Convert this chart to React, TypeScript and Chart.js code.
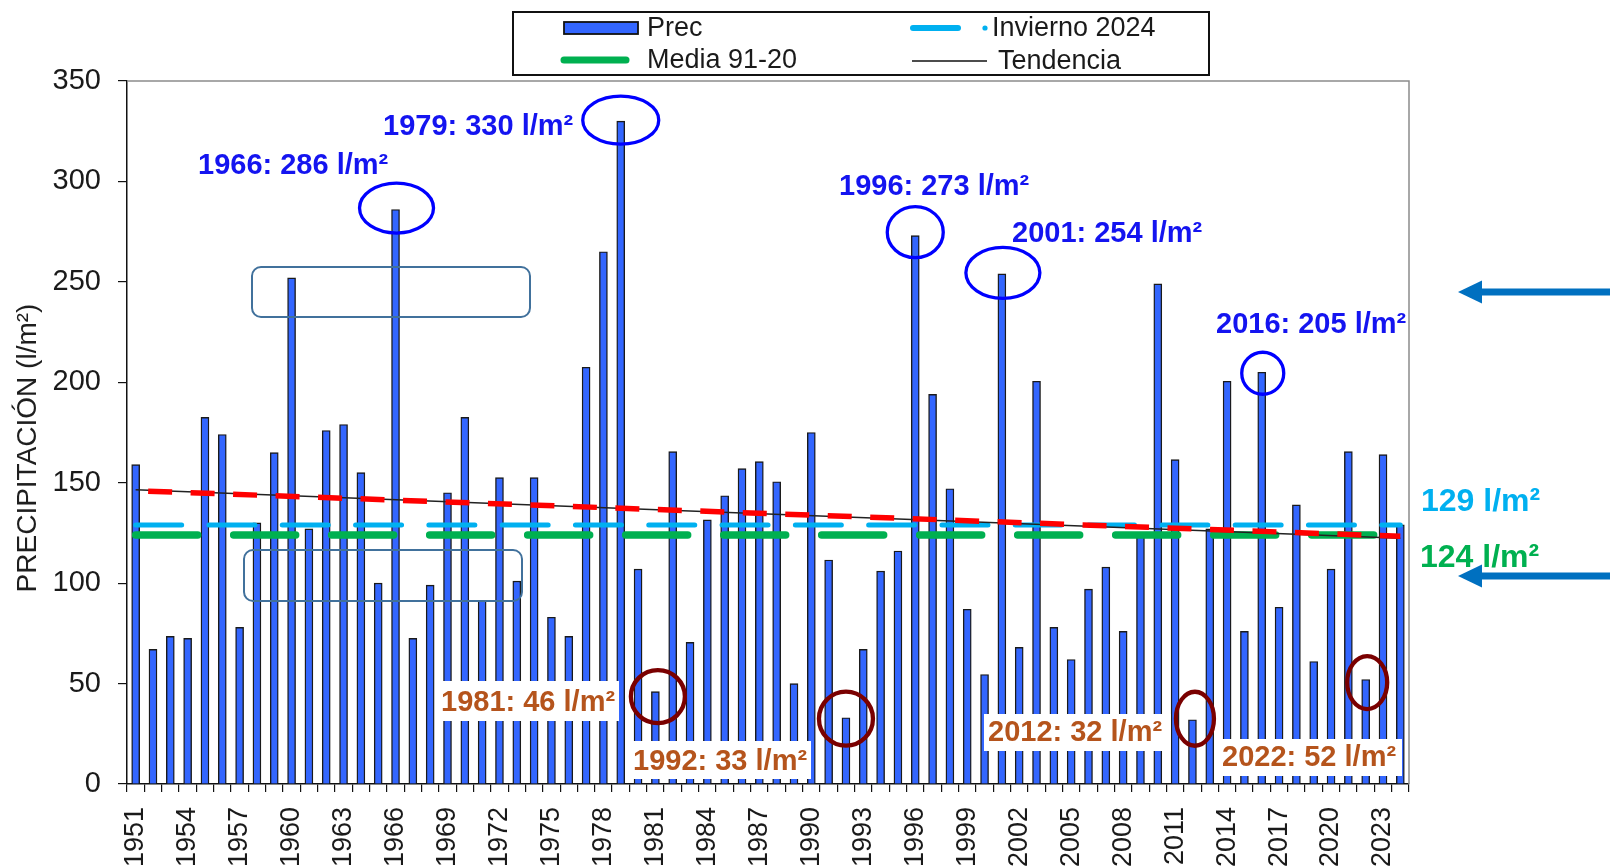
import React, { useEffect, useRef } from 'react';
import { Chart, registerables } from 'chart.js';

Chart.register(...registerables);

// ---------- DATA ----------
const years: string[] = [
  '1951','1952','1953','1954','1955','1956','1957','1958','1959','1960',
  '1961','1962','1963','1964','1965','1966','1967','1968','1969','1970',
  '1971','1972','1973','1974','1975','1976','1977','1978','1979','1980',
  '1981','1982','1983','1984','1985','1986','1987','1988','1989','1990',
  '1991','1992','1993','1994','1995','1996','1997','1998','1999','2000',
  '2001','2002','2003','2004','2005','2006','2007','2008','2009','2010',
  '2011','2012','2013','2014','2015','2016','2017','2018','2019','2020',
  '2021','2022','2023','2024',
];

const precipitation: number[] = [
  159, 67, 73.5, 72.5, 182.5, 174, 78, 130, 165, 252,
  127, 176, 179, 155, 100, 286, 72.5, 99, 145, 182.5,
  91.5, 152.5, 101, 152.5, 83, 73.5, 207.5, 265, 330, 107,
  46, 165.5, 70.5, 131.5, 143.5, 157, 160.5, 150.5, 50, 175,
  111.5, 33, 67, 106, 116, 273, 194, 147, 87, 54.5,
  254, 68, 200.5, 78, 62, 97, 108, 76, 125, 249,
  161.5, 32, 127, 200.5, 76, 205, 88, 139, 61, 107,
  165.5, 52, 164, 129,
];

const xTickLabels: string[] = [
  '1951','1954','1957','1960','1963','1966','1969','1972','1975','1978',
  '1981','1984','1987','1990','1993','1996','1999','2002','2005','2008',
  '2011','2014','2017','2020','2023',
];

const yTicks: number[] = [0, 50, 100, 150, 200, 250, 300, 350];

const media9120 = 124;
const invierno2024 = 129;
const tendenciaStart = 146.5;
const tendenciaEnd = 122.3;
const redTrendStart = 146;
const redTrendEnd = 123.3;

const maxYears: string[] = ['1966', '1979', '1996', '2001', '2016'];
const maxTexts: string[] = ['1966: 286 l/m²', '1979: 330 l/m²', '1996: 273 l/m²', '2001: 254 l/m²', '2016: 205 l/m²'];
const minYears: string[] = ['1981', '1992', '2012', '2022'];
const minTexts: string[] = ['1981: 46 l/m²', '1992: 33 l/m²', '2012: 32 l/m²', '2022: 52 l/m²'];

// ---------- LAYOUT / STYLE ----------
const W = 1610;
const H = 866;
const FONT = "'Liberation Sans', Arial, sans-serif";

const maxEllipses = [
  { rx: 37, ry: 25, dx: 1, dy: -1.5 },
  { rx: 38, ry: 24, dx: 0, dy: -1 },
  { rx: 28, ry: 25.5, dx: 0, dy: -3.5 },
  { rx: 37, ry: 25.5, dx: 1, dy: -1 },
  { rx: 21, ry: 21, dx: 1, dy: 1 },
];
const maxLabelPos = [
  { x: 198, y: 166 },
  { x: 383, y: 127 },
  { x: 839, y: 187 },
  { x: 1012, y: 234 },
  { x: 1216, y: 325 },
];
const minEllipses = [
  { rx: 27, ry: 26.5, dx: 2.5, dy: 5 },
  { rx: 27, ry: 27, dx: 0, dy: 1 },
  { rx: 19, ry: 27, dx: 2.5, dy: -1 },
  { rx: 20, ry: 26.5, dx: 1.5, dy: 3 },
];
const minLabelPos = [
  { x: 441, y: 703, bx: 438, by: 681, bw: 181, bh: 40 },
  { x: 633, y: 762, bx: 628, by: 741, bw: 183, bh: 38 },
  { x: 988, y: 733, bx: 984, by: 714, bw: 187, bh: 37 },
  { x: 1222, y: 758, bx: 1217, by: 739, bw: 185, bh: 37 },
];

const annotationPlugin = {
  id: 'annotations',
  afterDatasetsDraw(chart: any) {
    const { ctx, chartArea } = chart;
    const xs = chart.scales.x;
    const ys = chart.scales.y;
    ctx.save();

    // top & right frame
    ctx.strokeStyle = '#8c8c8c';
    ctx.lineWidth = 1.5;
    ctx.beginPath();
    ctx.moveTo(chartArea.left, chartArea.top);
    ctx.lineTo(chartArea.right, chartArea.top);
    ctx.lineTo(chartArea.right, chartArea.bottom);
    ctx.stroke();

    // rounded rectangles
    ctx.strokeStyle = '#41719C';
    ctx.lineWidth = 2;
    const rrs = [
      [252, 267, 278, 50],
      [244, 550, 278, 51],
    ];
    rrs.forEach(([x, y, w, h]) => {
      ctx.beginPath();
      ctx.roundRect(x, y, w, h, 9);
      ctx.stroke();
    });

    // max ellipses + labels
    ctx.textBaseline = 'middle';
    ctx.textAlign = 'left';
    maxYears.forEach((yr, i) => {
      const idx = years.indexOf(yr);
      const cx = xs.getPixelForValue(idx) + maxEllipses[i].dx;
      const cy = ys.getPixelForValue(precipitation[idx]) + maxEllipses[i].dy;
      ctx.strokeStyle = '#0000FF';
      ctx.lineWidth = 3.3;
      ctx.beginPath();
      ctx.ellipse(cx, cy, maxEllipses[i].rx, maxEllipses[i].ry, 0, 0, Math.PI * 2);
      ctx.stroke();
      ctx.fillStyle = '#1414F0';
      ctx.font = `bold 29px ${FONT}`;
      ctx.fillText(maxTexts[i], maxLabelPos[i].x, maxLabelPos[i].y);
    });

    // min ellipses + labels
    minYears.forEach((yr, i) => {
      const idx = years.indexOf(yr);
      const cx = xs.getPixelForValue(idx) + minEllipses[i].dx;
      const cy = ys.getPixelForValue(precipitation[idx]) + minEllipses[i].dy;
      ctx.strokeStyle = '#7A0000';
      ctx.lineWidth = 4.3;
      ctx.beginPath();
      ctx.ellipse(cx, cy, minEllipses[i].rx, minEllipses[i].ry, 0, 0, Math.PI * 2);
      ctx.stroke();
      const p = minLabelPos[i];
      ctx.fillStyle = '#ffffff';
      ctx.fillRect(p.bx, p.by, p.bw, p.bh);
      ctx.fillStyle = '#B5541C';
      ctx.font = `bold 29px ${FONT}`;
      ctx.fillText(minTexts[i], p.x, p.y);
    });

    // right side value labels
    ctx.font = `bold 32px ${FONT}`;
    ctx.fillStyle = '#00B0F0';
    ctx.fillText(`${invierno2024} l/m²`, 1421, 502);
    ctx.fillStyle = '#00B050';
    ctx.fillText(`${media9120} l/m²`, 1420, 558);

    // arrows
    ctx.fillStyle = '#0070C0';
    [292, 576].forEach((ay) => {
      ctx.fillRect(1478, ay - 3.5, W - 1478, 7);
      ctx.beginPath();
      ctx.moveTo(1458, ay);
      ctx.lineTo(1482, ay - 11.5);
      ctx.lineTo(1482, ay + 11.5);
      ctx.closePath();
      ctx.fill();
    });

    // y axis title
    ctx.save();
    ctx.translate(28, 448);
    ctx.rotate(-Math.PI / 2);
    ctx.textAlign = 'center';
    ctx.textBaseline = 'middle';
    ctx.fillStyle = '#1e1e1e';
    ctx.font = `28px ${FONT}`;
    ctx.fillText('PRECIPITACIÓN (l/m²)', 0, 0);
    ctx.restore();

    // legend
    ctx.fillStyle = '#ffffff';
    ctx.fillRect(513, 12, 696, 63);
    ctx.strokeStyle = '#111';
    ctx.lineWidth = 2;
    ctx.strokeRect(513, 12, 696, 63);

    ctx.fillStyle = '#3366FF';
    ctx.fillRect(564, 22, 74, 12);
    ctx.strokeStyle = '#111';
    ctx.lineWidth = 1.8;
    ctx.strokeRect(564, 22, 74, 12);

    ctx.lineCap = 'round';
    ctx.strokeStyle = '#00B050';
    ctx.lineWidth = 7;
    ctx.beginPath();
    ctx.moveTo(564, 60);
    ctx.lineTo(626, 60);
    ctx.stroke();

    ctx.strokeStyle = '#00B0F0';
    ctx.lineWidth = 6;
    ctx.beginPath();
    ctx.moveTo(913, 28);
    ctx.lineTo(958, 28);
    ctx.stroke();
    ctx.fillStyle = '#00B0F0';
    ctx.beginPath();
    ctx.arc(985, 28, 2.6, 0, Math.PI * 2);
    ctx.fill();

    ctx.lineCap = 'butt';
    ctx.strokeStyle = '#111';
    ctx.lineWidth = 1.5;
    ctx.beginPath();
    ctx.moveTo(912, 61);
    ctx.lineTo(987, 61);
    ctx.stroke();

    ctx.fillStyle = '#1a1a1a';
    ctx.font = `27px ${FONT}`;
    ctx.textAlign = 'left';
    ctx.textBaseline = 'middle';
    ctx.fillText('Prec', 647, 29);
    ctx.fillText('Media 91-20', 647, 61);
    ctx.fillText('Invierno 2024', 992, 29);
    ctx.fillText('Tendencia', 998, 62);

    ctx.restore();
  },
};

export default function App() {
  const ref = useRef<HTMLCanvasElement | null>(null);

  useEffect(() => {
    if (!ref.current) return;
    const first = years[0];
    const last = years[years.length - 1];
    const chart = new Chart(ref.current, {
      type: 'bar',
      data: {
        labels: years,
        datasets: [
          {
            type: 'bar',
            label: 'Prec',
            data: precipitation,
            backgroundColor: '#3366FF',
            borderColor: '#1a1a1a',
            borderWidth: 1.4,
            borderSkipped: 'bottom',
            barThickness: 8,
            order: 10,
          } as any,
          {
            type: 'line',
            label: 'Media 91-20',
            data: [{ x: first, y: media9120 }, { x: last, y: media9120 }],
            borderColor: '#00B050',
            borderWidth: 7.5,
            borderDash: [62, 36],
            borderCapStyle: 'round',
            pointRadius: 0,
            fill: false,
            order: 4,
          } as any,
          {
            type: 'line',
            label: 'Invierno 2024',
            data: [{ x: first, y: invierno2024 }, { x: last, y: invierno2024 }],
            borderColor: '#00B0F0',
            borderWidth: 5,
            borderDash: [46, 27.3],
            borderCapStyle: 'round',
            pointRadius: 0,
            fill: false,
            order: 3,
          } as any,
          {
            type: 'line',
            label: 'Tendencia',
            data: [{ x: first, y: tendenciaStart }, { x: last, y: tendenciaEnd }],
            borderColor: '#222222',
            borderWidth: 1.5,
            pointRadius: 0,
            fill: false,
            order: 2,
          } as any,
          {
            type: 'line',
            label: 'Tendencia (red)',
            data: [{ x: first, y: redTrendStart }, { x: last, y: redTrendEnd }],
            borderColor: '#FF0000',
            borderWidth: 5.5,
            borderDash: [24, 18.5],
            borderDashOffset: 30,
            pointRadius: 0,
            fill: false,
            order: 1,
          } as any,
        ],
      },
      options: {
        responsive: false,
        animation: false,
        layout: { padding: { top: 81, right: 201, left: 0, bottom: 0 } },
        plugins: {
          legend: { display: false },
          tooltip: { enabled: false },
          title: { display: false },
        },
        scales: {
          x: {
            type: 'category',
            offset: true,
            grid: {
              offset: true,
              drawOnChartArea: false,
              tickLength: 8,
              color: '#111',
              lineWidth: 1.2,
            },
            border: { display: true, color: '#111', width: 1.5 },
            ticks: {
              autoSkip: false,
              minRotation: 90,
              maxRotation: 90,
              padding: 15,
              color: '#1a1a1a',
              font: { family: FONT, size: 27 },
              callback: (_v: any, i: number) => (xTickLabels.includes(years[i]) ? years[i] : ''),
            },
            afterFit: (scale: any) => {
              scale.height = 82;
            },
          },
          y: {
            min: 0,
            max: 350,
            afterBuildTicks: (scale: any) => {
              scale.ticks = yTicks.map((v) => ({ value: v }));
            },
            grid: {
              drawOnChartArea: false,
              tickLength: 9,
              color: '#111',
              lineWidth: 1.2,
            },
            border: { display: true, color: '#111', width: 1.5 },
            ticks: {
              padding: 17,
              color: '#1a1a1a',
              font: { family: FONT, size: 29 },
            },
            afterFit: (scale: any) => {
              scale.width = 127;
            },
          },
        },
      },
      plugins: [annotationPlugin],
    });
    return () => chart.destroy();
  }, []);

  return (
    <div style={{ position: 'absolute', left: 0, top: 0, width: W, height: H, background: '#fff' }}>
      <canvas ref={ref} width={W} height={H} style={{ display: 'block' }} />
    </div>
  );
}
